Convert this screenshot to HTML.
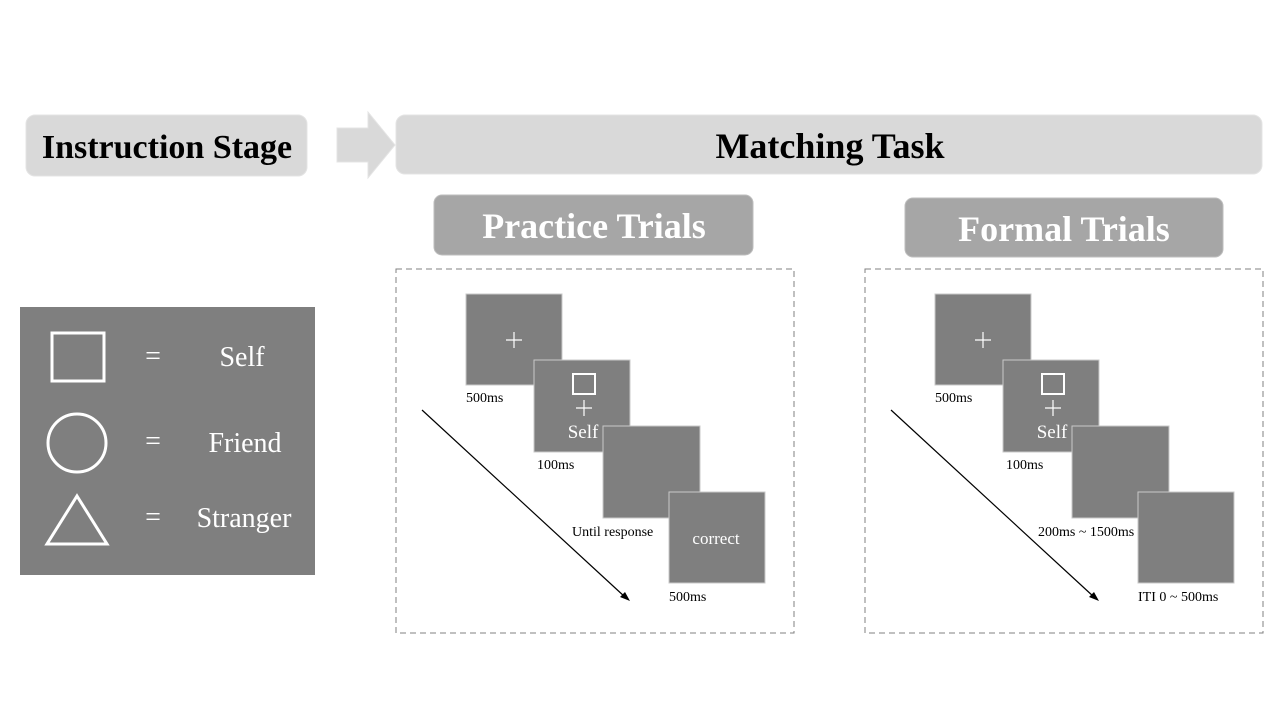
<!DOCTYPE html>
<html><head><style>body{margin:0;background:#fff}svg{display:block}</style></head><body>
<svg width="1280" height="720" xmlns="http://www.w3.org/2000/svg" font-family="Liberation Serif, serif">
<rect width="1280" height="720" fill="#fff"/>
<rect x="26" y="115" width="281" height="61" rx="9" fill="#d9d9d9" stroke="#e4e4e4"/>
<text x="167" y="158" font-size="34" font-weight="bold" text-anchor="middle" fill="#000">Instruction Stage</text>
<polygon points="337,128 368,128 368,112 395,145 368,178 368,162 337,162" fill="#d9d9d9" stroke="#e4e4e4"/>
<rect x="396" y="115" width="866" height="59" rx="9" fill="#d9d9d9" stroke="#e4e4e4"/>
<text x="830" y="158" font-size="36" font-weight="bold" text-anchor="middle" fill="#000">Matching Task</text>
<rect x="434" y="195" width="319" height="60" rx="8" fill="#a6a6a6" stroke="#bdbdbd"/>
<text x="594" y="238" font-size="36" font-weight="bold" text-anchor="middle" fill="#fff">Practice Trials</text>
<rect x="905" y="198" width="318" height="59" rx="8" fill="#a6a6a6" stroke="#bdbdbd"/>
<text x="1064" y="241" font-size="36" font-weight="bold" text-anchor="middle" fill="#fff">Formal Trials</text>
<rect x="20" y="307" width="295" height="268" fill="#7f7f7f"/>
<rect x="52" y="333" width="52" height="48" fill="none" stroke="#fff" stroke-width="3"/>
<circle cx="77" cy="443" r="29" fill="none" stroke="#fff" stroke-width="3"/>
<polygon points="77,496 107,544 47,544" fill="none" stroke="#fff" stroke-width="3"/>
<g fill="#fff" font-size="28" text-anchor="middle"><text x="153" y="365">=</text><text x="153" y="450">=</text><text x="153" y="526">=</text>
<text x="242" y="366">Self</text><text x="245" y="452">Friend</text><text x="244" y="527">Stranger</text></g>
<g id="p">
<rect x="396" y="269" width="398" height="364" fill="none" stroke="#808080" stroke-dasharray="6,4"/>
<g fill="#7f7f7f" stroke="#c8c8c8">
<rect x="466" y="294" width="96" height="91"/><rect x="534" y="360" width="96" height="92"/>
<rect x="603" y="426" width="97" height="92"/><rect x="669" y="492" width="96" height="91"/></g>
<g stroke="#fff" stroke-width="1.2"><path d="M506 340h16M514 332v16M576 408h16M584 400v16"/></g>
<rect x="573" y="374" width="22" height="20" fill="none" stroke="#fff" stroke-width="2"/>
<text x="583" y="438" font-size="19" fill="#fff" text-anchor="middle">Self</text>
<line x1="422" y1="410" x2="625" y2="597" stroke="#000" stroke-width="1.2"/>
<polygon points="630,601 620,597 625,592" fill="#000"/>
<g font-size="14" fill="#000"><text x="466" y="402">500ms</text><text x="537" y="469">100ms</text><text x="669" y="601">500ms</text></g>
</g>
<text x="572" y="536" font-size="14">Until response</text>
<text x="716" y="544" font-size="17" fill="#fff" text-anchor="middle">correct</text>
<use href="#p" x="469"/>
<text x="1038" y="536" font-size="14">200ms ~ 1500ms</text>
<rect x="1136" y="590" width="50" height="14" fill="#fff"/>
<text x="1138" y="601" font-size="14">ITI 0 ~ 500ms</text>
</svg>
</body></html>
